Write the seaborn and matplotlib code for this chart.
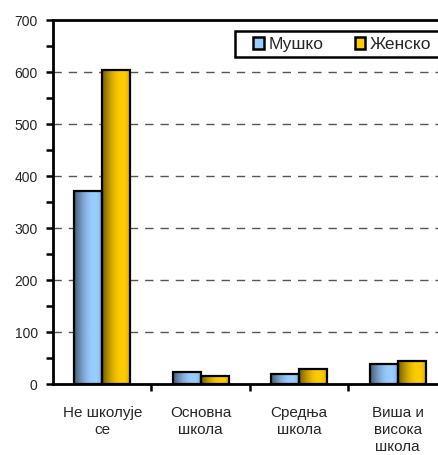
import numpy as np
import pandas as pd
import matplotlib
matplotlib.use("Agg")
import matplotlib.pyplot as plt
import seaborn as sns
from matplotlib.colors import to_rgb
from matplotlib.patches import Rectangle

categories = ["Не школује\nсе", "Основна\nшкола", "Средња\nшкола", "Виша и\nвисока\nшкола"]
series_names = ["Мушко", "Женско"]
male = [372, 24, 20, 38]
female = [603, 16, 29, 44]
colors = ["#99CCFF", "#FFCC00"]

df = pd.DataFrame({
    "cat": categories * 2,
    "val": male + female,
    "sex": [series_names[0]] * 4 + [series_names[1]] * 4,
})

sns.set_theme(style="white")
plt.rcParams["font.family"] = ["Liberation Sans", "DejaVu Sans"]

W, H = 439, 455
fig = plt.figure(figsize=(W / 100, H / 100), dpi=100)
ax = fig.add_axes([53 / W, 1 - 384 / H, (447 - 53) / W, (384 - 20) / H])

sns.barplot(data=df, x="cat", y="val", hue="sex", palette=colors, width=0.57,
            edgecolor="black", linewidth=1.6, ax=ax, saturation=1, zorder=3, legend=False)

# gradient fill for bars
for patch in ax.patches:
    fc = np.array(to_rgb(patch.get_facecolor()))
    x0, y0 = patch.get_x(), patch.get_y()
    w, h = patch.get_width(), patch.get_height()
    if h <= 0:
        continue
    t = np.linspace(0, 1, 64)
    shade = np.clip(0.45 + 0.55 * np.sin(np.clip(t / 0.7, 0, 1) * np.pi / 2), 0, 1)
    shade = np.where(t > 0.8, shade - (t - 0.8) * 0.8, shade)
    img = (fc[None, :] * shade[:, None])[None, :, :]
    im = ax.imshow(img, extent=[x0, x0 + w, y0, y0 + h], aspect="auto",
                   zorder=3.5, interpolation="bilinear")
    im.set_clip_path(patch)
    patch.set_zorder(4)
    patch.set_facecolor("none")

ax.set_xlim(-0.5, 3.5)
ax.set_ylim(0, 700)
ax.set_yticks(np.arange(0, 701, 100))
ax.set_yticks(np.arange(50, 701, 100), minor=True)
ax.set_xticks(range(4))
ax.set_xticklabels(categories, linespacing=1.25)
ax.set_xticks([0.5, 1.5, 2.5], minor=True)
ax.tick_params(axis="x", which="major", length=0, pad=16, labelsize=11)
ax.tick_params(axis="x", which="minor", length=5, width=1.8, direction="out", color="black", bottom=True)
ax.tick_params(axis="y", which="both", length=5, width=1.8, direction="out", color="black", left=True,
               labelsize=10, pad=6)
ax.set_xlabel("")
ax.set_ylabel("")

for y in range(100, 700, 100):
    ax.axhline(y, color="#555555", linestyle=(0, (6, 5)), linewidth=1.0, zorder=1)

for s in ["top", "left", "bottom"]:
    ax.spines[s].set_visible(True)
    ax.spines[s].set_color("black")
    ax.spines[s].set_linewidth(2)
ax.spines["right"].set_visible(False)
ax.set_facecolor("white")

# legend frame (box), drawn in figure pixel coords
frame = Rectangle((235 / W, 1 - 57 / H), (450 - 235) / W, 26 / H, transform=fig.transFigure,
                  facecolor="white", edgecolor="black", linewidth=1.8, zorder=5)
fig.patches.append(frame)

handles = [plt.Rectangle((0, 0), 1, 1, facecolor=c, edgecolor="black", linewidth=1.8) for c in colors]
leg = fig.legend(handles, series_names, ncol=2, loc="center left",
                 bbox_to_anchor=(253 / W, 1 - 44.5 / H),
                 frameon=False, fontsize=12.5, handlelength=0.63, handleheight=0.63,
                 handletextpad=0.25, columnspacing=1.8, borderpad=0.0, borderaxespad=0)
leg.set_zorder(6)

fig.savefig("out.png", dpi=100)
